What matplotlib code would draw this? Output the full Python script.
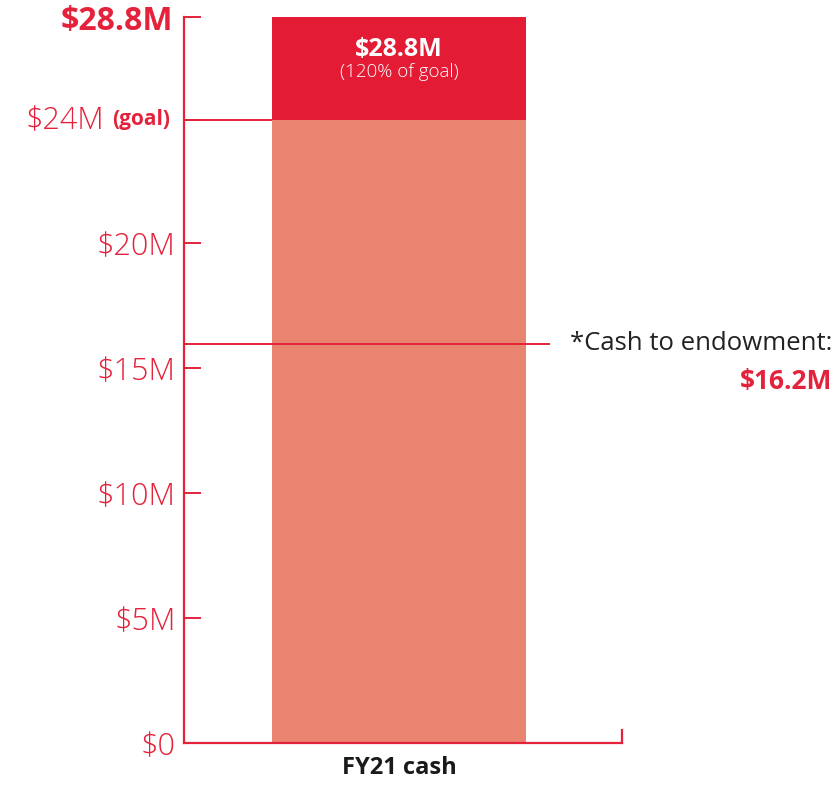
import numpy as np
import matplotlib
matplotlib.use("Agg")
import matplotlib.pyplot as plt
from matplotlib.transforms import blended_transform_factory

# FY21 cash raised vs goal
category = "FY21 cash"
total = 28.8          # $M raised
goal = 24.0           # $M goal
endowment = 16.2      # $M cash to endowment
pct_of_goal = 120
tick_values = [0, 5, 10, 15, 20]
tick_labels = ["$0", "$5M", "$10M", "$15M", "$20M"]

RED = "#e4223c"
DARK = "#e31b35"
LIGHT = "#e98471"
FONT = "Open Sans"

plt.rcParams["font.family"] = [FONT, "DejaVu Sans"]

# the infographic stretches the top part of the axis a bit
knots_in = [-100, 0, 15, 16.2, 20, 24, 28.8, 100]
knots_out = [-100, 0, 15, 15.96, 20, 24.92, 29.04, 90.2]
fwd = lambda v: np.interp(v, knots_in, knots_out)
inv = lambda v: np.interp(v, knots_out, knots_in)

fig = plt.figure(figsize=(8.35, 7.85), dpi=100)
ax = fig.add_axes([184/835, 42/785, 438/835, 726/785])
ax.set_yscale("function", functions=(fwd, inv))
ax.set_ylim(0, total)
ax.set_xlim(-0.491, 0.509)

# bar: below goal (light) + above goal (dark)
ax.bar([0], [goal], width=0.58, color=LIGHT, zorder=1)
ax.bar([0], [total - goal], bottom=[goal], width=0.58, color=DARK, zorder=1)

# spines
for s in ["top", "right"]:
    ax.spines[s].set_visible(False)
for s in ["left", "bottom"]:
    ax.spines[s].set_color(RED)
    ax.spines[s].set_linewidth(1.6)
ax.axvline(ax.get_xlim()[1], ymin=0, ymax=0.018, color=RED, lw=1.6, clip_on=False)

ax.set_yticks(tick_values + [goal, total])
ax.set_yticklabels(tick_labels + ["", ""])
ax.tick_params(axis="y", direction="in", length=12, width=1.4, color=RED,
               labelcolor=RED, labelsize=22, pad=6)
for lab in ax.get_yticklabels():
    lab.set_fontweight("light")
ax.set_xticks([0])
ax.set_xticklabels([category], fontsize=17, fontweight="bold", color="#1a1a1a")
ax.tick_params(axis="x", length=0, pad=9)

# goal line runs from the axis to the bar
ax.hlines(goal, ax.get_xlim()[0], -0.29, color=RED, lw=1.4, zorder=2)

tr = blended_transform_factory(ax.transAxes, ax.transData)
goal_txt = ax.text(-0.032, goal, "(goal)", transform=tr, ha="right", va="center",
                   fontsize=15, fontweight="bold", color=RED)
ax.annotate("$24M", xy=(0, 0.45), xycoords=goal_txt, xytext=(-6, 0),
            textcoords="offset points", ha="right", va="center",
            fontsize=22, fontweight="light", color=RED)
ax.annotate("$28.8M", xy=(-0.025, total), xycoords=tr, xytext=(0, -3),
            textcoords="offset points", ha="right", va="center",
            fontsize=23, fontweight="bold", color=RED)

# label inside the dark segment
ax.text(0, total - 1.5, "$28.8M", ha="center", va="center", fontsize=18,
        fontweight="bold", color="white")
ax.text(0, total - 2.55, f"({pct_of_goal}% of goal)", ha="center", va="center",
        fontsize=13.5, fontweight="light", color="white")

# endowment line and callout
ax.hlines(endowment, ax.get_xlim()[0], 0.345, color=RED, lw=1.4, zorder=2)
ax.text(1.48, endowment, "*Cash to endowment:", transform=tr, ha="right",
        va="center", fontsize=18.5, color="#222222")
ax.text(1.48, endowment - 1.72, "$16.2M", transform=tr, ha="right", va="center",
        fontsize=19, fontweight="bold", color=RED)

fig.savefig("out.png", dpi=100)
